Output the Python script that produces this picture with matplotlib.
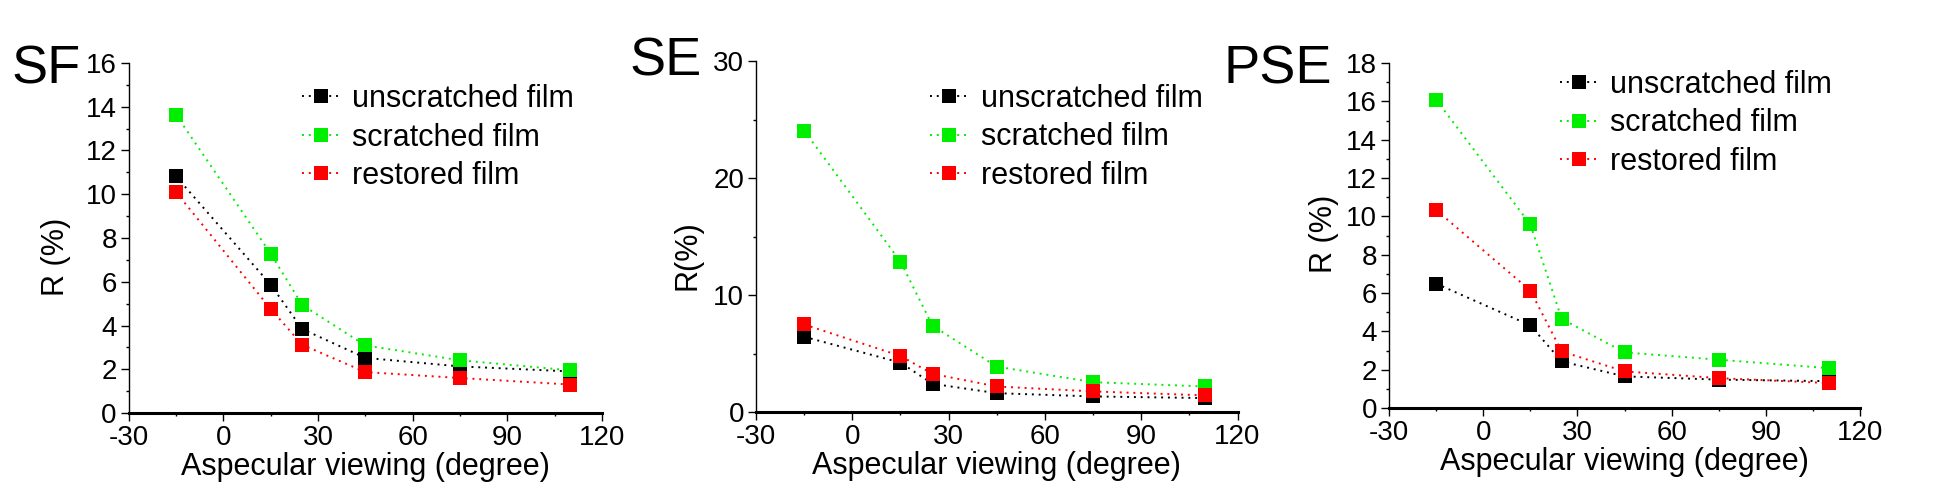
import matplotlib
matplotlib.use("Agg")
import matplotlib.pyplot as plt
from matplotlib.ticker import MultipleLocator

plt.rcParams['font.family'] = ['Liberation Sans', 'DejaVu Sans']
plt.rcParams['axes.unicode_minus'] = False

# viewing angles (degree)
angles = [-15, 15, 25, 45, 75, 110]
series_names = ['unscratched film', 'scratched film', 'restored film']
series_colors = ['#000000', '#00ee00', '#ff0000']

sf_unscratched = [10.82, 5.87, 3.84, 2.52, 2.13, 1.90]
sf_scratched = [13.64, 7.29, 4.94, 3.09, 2.41, 1.95]
sf_restored = [10.10, 4.76, 3.12, 1.87, 1.60, 1.30]

se_unscratched = [6.43, 4.22, 2.41, 1.61, 1.33, 1.19]
se_scratched = [24.05, 12.86, 7.37, 3.88, 2.55, 2.18]
se_restored = [7.48, 4.79, 3.26, 2.18, 1.76, 1.42]

pse_unscratched = [6.49, 4.31, 2.43, 1.65, 1.48, 1.40]
pse_scratched = [16.09, 9.58, 4.65, 2.90, 2.52, 2.08]
pse_restored = [10.33, 6.13, 2.95, 1.91, 1.56, 1.30]

panels = [
    dict(tag='SF', ylabel='R (%)', ymax=16, ymaj=2, ymin=1,
         data=[sf_unscratched, sf_scratched, sf_restored]),
    dict(tag='SE', ylabel='R(%)', ymax=30, ymaj=10, ymin=5,
         data=[se_unscratched, se_scratched, se_restored]),
    dict(tag='PSE', ylabel='R (%)', ymax=18, ymaj=2, ymin=1,
         data=[pse_unscratched, pse_scratched, pse_restored]),
]

W, H = 1936, 498
# axes boxes in pixels (left, top, right, bottom), measured from reference
px_boxes = [(128.6, 63, 602, 413),
            (756, 61, 1237.5, 412),
            (1389, 63, 1860, 408)]
tag_pos = [(12, 83, 'left'), (702, 75, 'right'), (1223, 83, 'left')]
leg_anchor = [(0.366, 0.94), (0.362, 0.935), (0.362, 0.98)]
ylab_coords = [(-0.122, 0.446), (-0.112, 0.448), (-0.106, 0.504)]

fig = plt.figure(figsize=(W / 100, H / 100), dpi=100)

for p, pb, tp, la, yc in zip(panels, px_boxes, tag_pos, leg_anchor, ylab_coords):
    l, t, r, b = pb
    ax = fig.add_axes([l / W, 1 - b / H, (r - l) / W, (b - t) / H])
    for vals, name, col in zip(p['data'], series_names, series_colors):
        ax.plot(angles, vals, linestyle=(0, (1, 2.5)), lw=1.4, color=col,
                marker='s', markersize=9.5, markeredgewidth=0, label=name)
    ax.set_xlim(-30, 120)
    ax.set_ylim(0, p['ymax'])
    ax.xaxis.set_major_locator(MultipleLocator(30))
    ax.xaxis.set_minor_locator(MultipleLocator(15))
    ax.yaxis.set_major_locator(MultipleLocator(p['ymaj']))
    ax.yaxis.set_minor_locator(MultipleLocator(p['ymin']))
    for s in ['top', 'right']:
        ax.spines[s].set_visible(False)
    ax.spines['left'].set_linewidth(1.0)
    ax.spines['bottom'].set_linewidth(2.2)
    ax.tick_params(which='major', direction='out', length=5.5, width=1,
                   labelsize=20, pad=3)
    ax.tick_params(which='minor', direction='out', length=2.5, width=1)
    ax.set_xlabel('Aspecular viewing (degree)', fontsize=22, labelpad=1)
    ax.set_ylabel(p['ylabel'], fontsize=22)
    ax.yaxis.set_label_coords(*yc)
    ax.legend(loc='upper left', bbox_to_anchor=la, frameon=False,
              fontsize=22, handlelength=1.25, handletextpad=0.4,
              labelspacing=0.28, borderpad=0, borderaxespad=0,
              markerscale=1.1)
    fig.text(tp[0] / W, 1 - tp[1] / H, p['tag'], fontsize=39,
             ha=tp[2], va='baseline')

fig.savefig('out.png', dpi=100)
